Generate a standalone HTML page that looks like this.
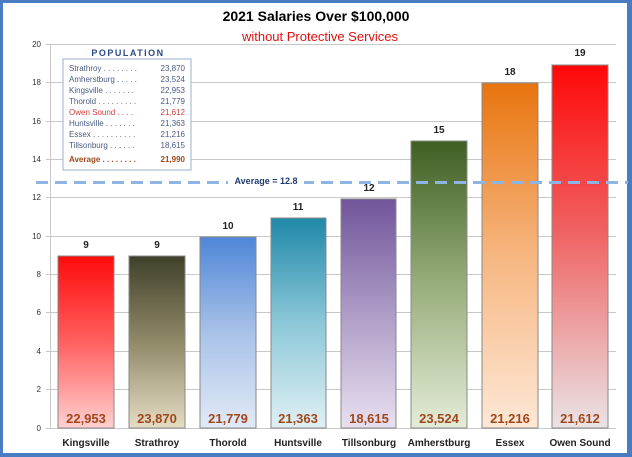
<!DOCTYPE html>
<html><head><meta charset="utf-8"><style>
html,body{margin:0;padding:0;background:#fff}
svg{display:block;font-family:"Liberation Sans",sans-serif}
</style></head><body>
<svg width="632" height="457" viewBox="0 0 632 457" xmlns="http://www.w3.org/2000/svg">
<defs>
<linearGradient id="g1" x1="0" y1="0" x2="0" y2="1"><stop offset="0" stop-color="#ff0a0a"/><stop offset="0.5" stop-color="#ff6060"/><stop offset="1" stop-color="#ffd0d0"/></linearGradient>
<linearGradient id="g2" x1="0" y1="0" x2="0" y2="1"><stop offset="0" stop-color="#40402a"/><stop offset="0.5" stop-color="#908a68"/><stop offset="1" stop-color="#e4dcc4"/></linearGradient>
<linearGradient id="g3" x1="0" y1="0" x2="0" y2="1"><stop offset="0" stop-color="#4f86d8"/><stop offset="0.5" stop-color="#a8c2e8"/><stop offset="1" stop-color="#e2eaf6"/></linearGradient>
<linearGradient id="g4" x1="0" y1="0" x2="0" y2="1"><stop offset="0" stop-color="#2088a8"/><stop offset="0.5" stop-color="#8cc8d8"/><stop offset="1" stop-color="#e0f0f4"/></linearGradient>
<linearGradient id="g5" x1="0" y1="0" x2="0" y2="1"><stop offset="0" stop-color="#70559a"/><stop offset="0.5" stop-color="#ae9cc6"/><stop offset="1" stop-color="#e8e0f0"/></linearGradient>
<linearGradient id="g6" x1="0" y1="0" x2="0" y2="1"><stop offset="0" stop-color="#3e5e22"/><stop offset="0.5" stop-color="#98ae7c"/><stop offset="1" stop-color="#e4ecd8"/></linearGradient>
<linearGradient id="g7" x1="0" y1="0" x2="0" y2="1"><stop offset="0" stop-color="#e8740e"/><stop offset="0.5" stop-color="#f6b680"/><stop offset="1" stop-color="#fde8d6"/></linearGradient>
<linearGradient id="g8" x1="0" y1="0" x2="0" y2="1"><stop offset="0" stop-color="#ff0808"/><stop offset="0.45" stop-color="#f06060"/><stop offset="1" stop-color="#eae4e6"/></linearGradient>
</defs>
<rect x="0" y="0" width="632" height="457" fill="#4a7cc4"/>
<rect x="3" y="3" width="624" height="450" fill="#fff"/>
<text x="316" y="21" font-size="14" font-weight="bold" text-anchor="middle" fill="#000">2021 Salaries Over $100,000</text>
<text x="320" y="41" font-size="13" text-anchor="middle" fill="#e01010">without Protective Services</text>
<g stroke="#c8c8c8" stroke-width="1">
<line x1="46" y1="44.5" x2="616" y2="44.5"/><line x1="46" y1="82.5" x2="616" y2="82.5"/><line x1="46" y1="121.5" x2="616" y2="121.5"/><line x1="46" y1="159.5" x2="616" y2="159.5"/><line x1="46" y1="197.5" x2="616" y2="197.5"/><line x1="46" y1="236.5" x2="616" y2="236.5"/><line x1="46" y1="274.5" x2="616" y2="274.5"/><line x1="46" y1="312.5" x2="616" y2="312.5"/><line x1="46" y1="351.5" x2="616" y2="351.5"/><line x1="46" y1="389.5" x2="616" y2="389.5"/>
<line x1="50.5" y1="44" x2="50.5" y2="428"/><line x1="46" y1="428.5" x2="616" y2="428.5"/>
</g>
<g font-size="8" fill="#333" text-anchor="end">
<text x="41" y="47">20</text><text x="41" y="85">18</text><text x="41" y="124">16</text><text x="41" y="162">14</text><text x="41" y="200">12</text><text x="41" y="239">10</text><text x="41" y="277">8</text><text x="41" y="315">6</text><text x="41" y="354">4</text><text x="41" y="392">2</text><text x="41" y="431">0</text>
</g>
<g stroke="#888" stroke-width="1">
<rect x="58" y="256" width="56" height="172" fill="url(#g1)"/>
<rect x="129" y="256" width="56" height="172" fill="url(#g2)"/>
<rect x="200" y="237" width="56" height="191" fill="url(#g3)"/>
<rect x="271" y="218" width="55" height="210" fill="url(#g4)"/>
<rect x="341" y="199" width="55" height="229" fill="url(#g5)"/>
<rect x="411" y="141" width="56" height="287" fill="url(#g6)"/>
<rect x="482" y="83" width="56" height="345" fill="url(#g7)"/>
<rect x="552" y="65" width="56" height="363" fill="url(#g8)"/>
</g>
<g font-size="10" font-weight="bold" fill="#222" text-anchor="middle">
<text x="86" y="248">9</text><text x="157" y="248">9</text><text x="228" y="229">10</text><text x="298" y="210">11</text><text x="369" y="191">12</text><text x="439" y="133">15</text><text x="510" y="75">18</text><text x="580" y="56">19</text>
</g>
<g font-size="13" font-weight="bold" fill="#a0481c" text-anchor="middle">
<text x="86" y="423">22,953</text><text x="157" y="423">23,870</text><text x="228" y="423">21,779</text><text x="298" y="423">21,363</text><text x="369" y="423">18,615</text><text x="439" y="423">23,524</text><text x="510" y="423">21,216</text><text x="580" y="423">21,612</text>
</g>
<g font-size="10" font-weight="bold" fill="#222" text-anchor="middle">
<text x="86" y="446">Kingsville</text><text x="157" y="446">Strathroy</text><text x="228" y="446">Thorold</text><text x="298" y="446">Huntsville</text><text x="369" y="446">Tillsonburg</text><text x="439" y="446">Amherstburg</text><text x="510" y="446">Essex</text><text x="580" y="446">Owen Sound</text>
</g>
<line x1="36" y1="182.5" x2="628" y2="182.5" stroke="#8db4e2" stroke-width="3" stroke-dasharray="12,7"/>
<rect x="228" y="174" width="76" height="13" fill="#fff"/>
<text x="266" y="184" font-size="9" font-weight="bold" fill="#1f3c70" text-anchor="middle">Average = 12.8</text>
<text x="128" y="56" font-size="9" font-weight="bold" fill="#2a4a8a" text-anchor="middle" letter-spacing="1.5">POPULATION</text>
<rect x="63" y="59" width="128" height="111" fill="#fff" stroke="#9bb0cc" stroke-width="1"/>
<g font-size="8" fill="#4a5a80">
<text x="69" y="71">Strathroy . . . . . . . .</text><text x="185" y="71" text-anchor="end">23,870</text>
<text x="69" y="82">Amherstburg . . . . .</text><text x="185" y="82" text-anchor="end">23,524</text>
<text x="69" y="93">Kingsville . . . . . . .</text><text x="185" y="93" text-anchor="end">22,953</text>
<text x="69" y="104">Thorold . . . . . . . . .</text><text x="185" y="104" text-anchor="end">21,779</text>
<text x="69" y="115" fill="#d04040">Owen Sound . . . .</text><text x="185" y="115" text-anchor="end" fill="#d04040">21,612</text>
<text x="69" y="126">Huntsville . . . . . . .</text><text x="185" y="126" text-anchor="end">21,363</text>
<text x="69" y="137">Essex . . . . . . . . . .</text><text x="185" y="137" text-anchor="end">21,216</text>
<text x="69" y="148">Tillsonburg . . . . . .</text><text x="185" y="148" text-anchor="end">18,615</text>
<text x="69" y="162" fill="#a0481c" font-weight="bold">Average . . . . . . . .</text><text x="185" y="162" text-anchor="end" fill="#a0481c" font-weight="bold">21,990</text>
</g>
</svg>
</body></html>
